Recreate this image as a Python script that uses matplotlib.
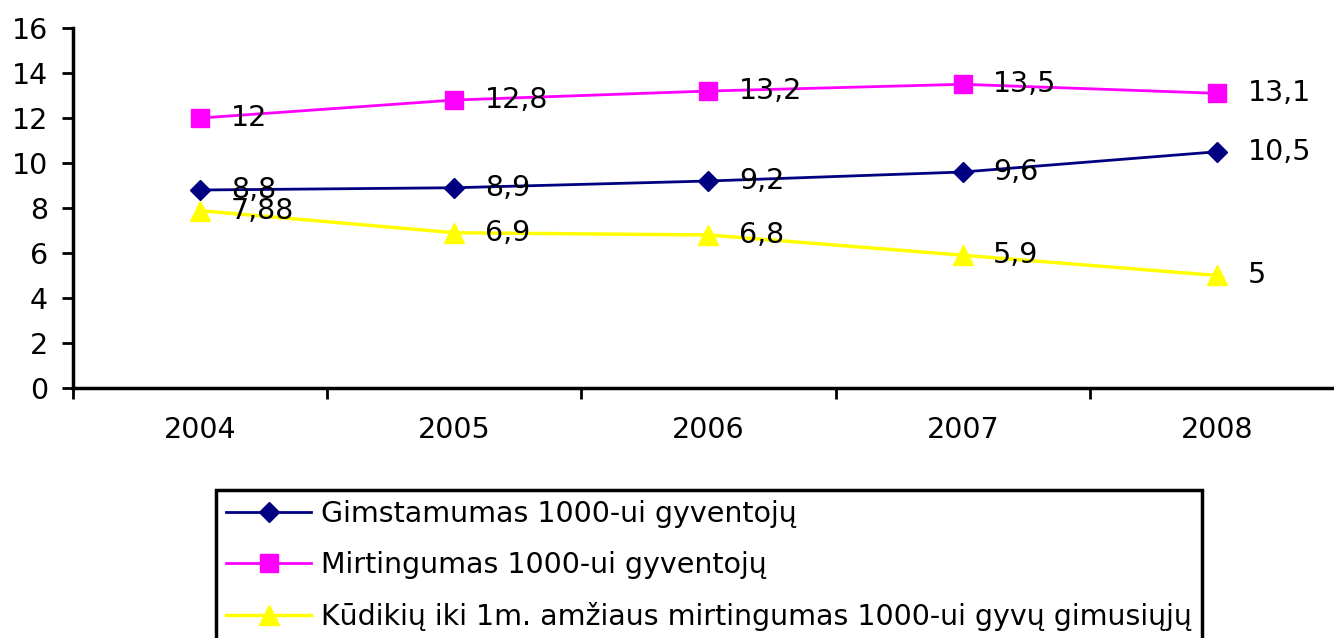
import numpy as np
import matplotlib.pyplot as plt

# Duomenys
metai = ['2004', '2005', '2006', '2007', '2008']
gimstamumas = [8.8, 8.9, 9.2, 9.6, 10.5]
mirtingumas = [12, 12.8, 13.2, 13.5, 13.1]
kudikiu = [7.88, 6.9, 6.8, 5.9, 5]
etiketes_gim = ['8,8', '8,9', '9,2', '9,6', '10,5']
etiketes_mirt = ['12', '12,8', '13,2', '13,5', '13,1']
etiketes_kud = ['7,88', '6,9', '6,8', '5,9', '5']
pavadinimai = ['Gimstamumas 1000-ui gyventojų',
               'Mirtingumas 1000-ui gyventojų',
               'Kūdikių iki 1m. amžiaus mirtingumas 1000-ui gyvų gimusiųjų']

plt.rcParams['font.family'] = ['DejaVu Sans']
fs = 20.5

fig = plt.figure(figsize=(13.34, 6.38), dpi=100)
ax = fig.add_axes([0.0547, 0.392, 0.9528, 0.564])

x = np.arange(len(metai))
ax.plot(x, gimstamumas, color='#000080', lw=2, marker='D', ms=10, label=pavadinimai[0])
ax.plot(x, mirtingumas, color='#FF00FF', lw=2, marker='s', ms=13, label=pavadinimai[1])
ax.plot(x, kudikiu, color='#FFFF00', lw=2.5, marker='^', ms=15, label=pavadinimai[2])

for serija, etiketes in [(gimstamumas, etiketes_gim), (mirtingumas, etiketes_mirt), (kudikiu, etiketes_kud)]:
    for xi, yi, t in zip(x, serija, etiketes):
        ax.annotate(t, (xi, yi), xytext=(22, 0), textcoords='offset points',
                    ha='left', va='center', fontsize=fs, color='black')

ax.set_xlim(-0.5, 4.5)
ax.set_ylim(0, 16)
ax.set_yticks(np.arange(0, 17, 2))
ax.set_xticks(x)
ax.set_xticklabels(metai)
ax.set_xticks(np.arange(-0.5, 5, 1), minor=True)
ax.tick_params(axis='x', which='major', length=0, pad=20, labelsize=fs)
ax.tick_params(axis='x', which='minor', length=8, width=2, direction='out')
ax.tick_params(axis='y', length=8, width=2, direction='out', pad=10, labelsize=fs)

for s in ['top', 'right']:
    ax.spines[s].set_visible(False)
for s in ['left', 'bottom']:
    ax.spines[s].set_linewidth(2.5)

leg = fig.legend(loc='upper left', bbox_to_anchor=(216 / 1334, 1 - 490 / 638),
                 fontsize=fs, frameon=True, fancybox=False, edgecolor='black',
                 handlelength=3.0, handletextpad=0.35, labelspacing=0.8,
                 borderpad=0.35, borderaxespad=0)
leg.get_frame().set_linewidth(2.5)
leg.get_frame().set_alpha(1)

fig.savefig('out.png', dpi=100)
